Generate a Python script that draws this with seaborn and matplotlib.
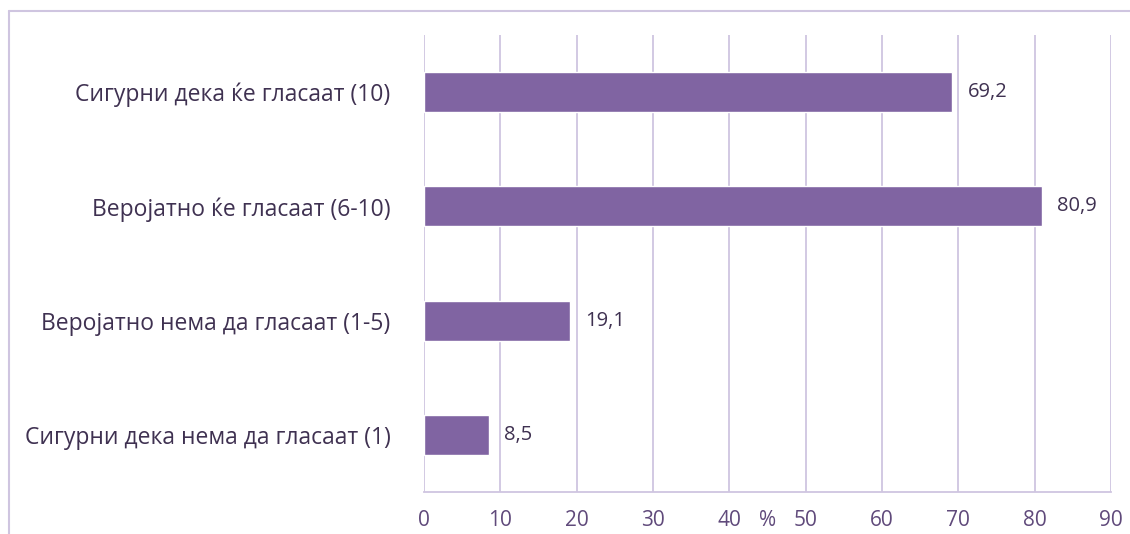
import matplotlib
matplotlib.use("Agg")
import matplotlib.pyplot as plt
import matplotlib.transforms as mtransforms
from matplotlib.lines import Line2D
import seaborn as sns
import pandas as pd

# data
categories = [
    "Сигурни дека ќе гласаат (10)",
    "Веројатно ќе гласаат (6-10)",
    "Веројатно нема да гласаат (1-5)",
    "Сигурни дека нема да гласаат (1)",
]
values = [69.2, 80.9, 19.1, 8.5]
x_ticks = [0, 10, 20, 30, 40, 50, 60, 70, 80, 90]

df = pd.DataFrame({"cat": categories, "val": values})

sns.set_style("white")
plt.rcParams["font.family"] = ["Open Sans", "DejaVu Sans"]

bar_color = "#8064A2"
grid_color = "#CFC5E0"
label_color = "#3F3151"
tick_color = "#604A7B"

fig = plt.figure(figsize=(11.3, 5.34), dpi=100)
ax = fig.add_axes([0.3752, 0.0787, 0.608, 0.8558])

sns.barplot(data=df, x="val", y="cat", orient="h", color=bar_color,
            width=0.35, saturation=1, ax=ax)

ax.set_xlim(0, 90)
ax.set_ylim(3.5, -0.5)
ax.set_xticks(x_ticks)
ax.set_xticklabels([str(t) for t in x_ticks], color=tick_color, fontsize=15)
ax.set_yticklabels(categories, color=label_color, fontsize=16.5)
ax.tick_params(axis="x", length=0, pad=13)
ax.tick_params(axis="y", length=0, pad=24)
ax.set_ylabel("")
ax.set_xlabel("")

# the "%" axis title sits on the tick-label row, between 40 and 50
trans = mtransforms.blended_transform_factory(ax.transData, fig.transFigure)
ax.text(45, 1 - 520 / 534, "%", transform=trans, ha="center", va="center",
        color=tick_color, fontsize=15)

for x in x_ticks:
    ax.axvline(x, color=grid_color, lw=1.3, zorder=0)
for s in ["top", "right", "left"]:
    ax.spines[s].set_visible(False)
ax.spines["bottom"].set_color(grid_color)
ax.spines["bottom"].set_linewidth(1.3)

for i, v in enumerate(values):
    ax.text(v + 2.0, i, f"{v:.1f}".replace(".", ","), va="center", ha="left",
            color=label_color, fontsize=14.5)

# outer chart frame (partially cropped in the reference)
fig.add_artist(Line2D([9 / 1130, 9 / 1130], [0, 1 - 11 / 534],
                      transform=fig.transFigure, color=grid_color, lw=1.5))
fig.add_artist(Line2D([9 / 1130, 1], [1 - 11 / 534, 1 - 11 / 534],
                      transform=fig.transFigure, color=grid_color, lw=1.5))

fig.savefig("out.png", dpi=100)
